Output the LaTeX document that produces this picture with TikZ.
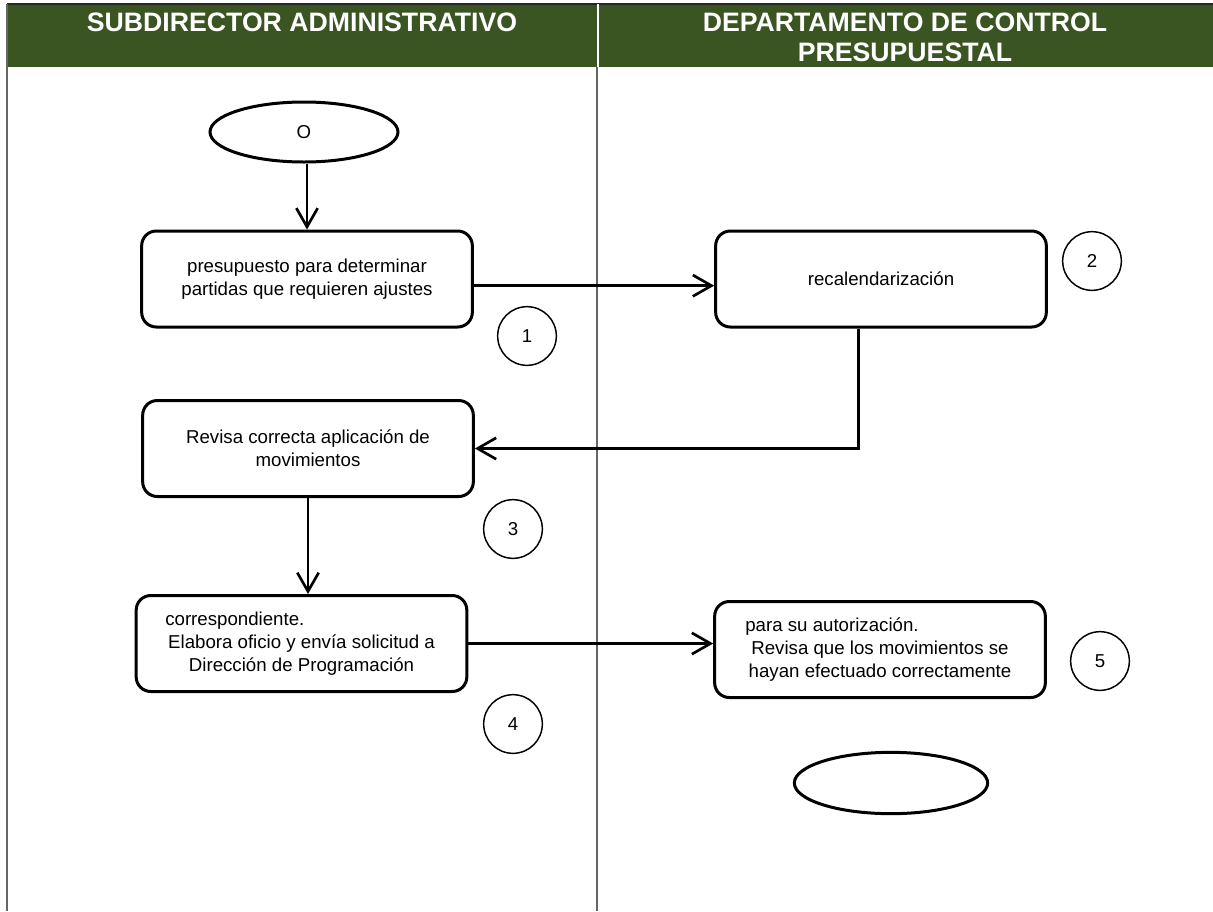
\documentclass[tikz,border=0pt]{standalone}
\usepackage{fontspec}
\setmainfont{Liberation Sans}
\usepackage{xcolor}
\usetikzlibrary{
arrows.meta,
shapes,
positioning
}
\definecolor{headgreen}{RGB}{58,84,34}

\begin{document}
\begin{tikzpicture}[
      x=0.75pt,y=-0.75pt,
      arrow/.style={
        -{Straight Barb[length=14pt,width=16pt,line width=2pt]},
        line width=2pt
      },
      lane/.style={
        draw=black!60,
        line width=1pt
      },
      heading/.style={
        text=white,
        inner sep=0pt,
        align=center,
        font=\fontsize{20}{22.5}\selectfont\bfseries
      },
      activity/.style={
        draw,
        rectangle,
        rounded corners=11pt,
        line width=2.25pt,
        minimum width=248pt,
        minimum height=72pt,
        align=center,
        font=\fontsize{14}{17.25}\selectfont
      },
      terminal/.style={
        draw,
        ellipse,
        line width=2.25pt,
        minimum width=141pt,
        minimum height=45pt,
        font=\fontsize{14}{17.25}\selectfont
      },
      stepnum/.style={
        draw,
        circle,
        line width=1.1pt,
        minimum size=44pt,
        font=\fontsize{14}{17.25}\selectfont
      }
    ]
    \useasboundingbox (0,0) rectangle (1213,911);

    % lanes
    \fill[headgreen] (7,4) rectangle (1213,67);
    \draw[black!85,line width=1.5pt] (7,4) -- (1213,4);
    \draw[white,line width=1.5pt] (598,4) -- (598,67);
    \draw[lane] (7,4) -- (7,911);
    \draw[lane] (597,67) -- (597,911);

    \node[heading,anchor=north] (hsub) at(302,13) {SUBDIRECTOR ADMINISTRATIVO};
    \node[heading,anchor=north] (hdep) at(905,13) {DEPARTAMENTO DE CONTROL\\PRESUPUESTAL};

    % activities
    \node[terminal] (inicio) at(304,132) {O};
    \node[activity] (presup) at(307,279) {presupuesto para determinar\\partidas que requieren ajustes};
    \node[activity] (recal) at(881,279) {recalendarización};
    \node[activity] (revisa) at(308,448.5) {Revisa correcta aplicación de\\movimientos};
    \node[activity] (elabora) at(301.5,643.5) {correspondiente.\hspace*{100pt}\\Elabora oficio y envía solicitud a\\Dirección de Programación};
    \node[activity] (revmov) at(880,649.5) {para su autorización.\hspace*{72pt}\\Revisa que los movimientos se\\hayan efectuado correctamente};
    \node[terminal,minimum width=145pt,minimum height=46pt] (fin) at(891,783) {};

    \node[stepnum] (n1) at(527,336) {1};
    \node[stepnum] (n2) at(1092,261) {2};
    \node[stepnum] (n3) at(513,529) {3};
    \node[stepnum] (n4) at(513,724) {4};
    \node[stepnum] (n5) at(1100,661) {5};

    % flow
    \draw[arrow] (presup.north |- inicio.south) -- (presup.north);
    \draw[arrow] ([yshift=-5pt]presup.east) -- ([yshift=-5pt]presup.east -| recal.west);
    \draw[arrow] ([xshift=-17pt]recal.south) |- (revisa.east);
    \draw[arrow] (revisa.south) -- (elabora.north -| revisa.south);
    \draw[arrow] (elabora.east) -- (elabora.east -| revmov.west);

  \end{tikzpicture}
\end{document}
